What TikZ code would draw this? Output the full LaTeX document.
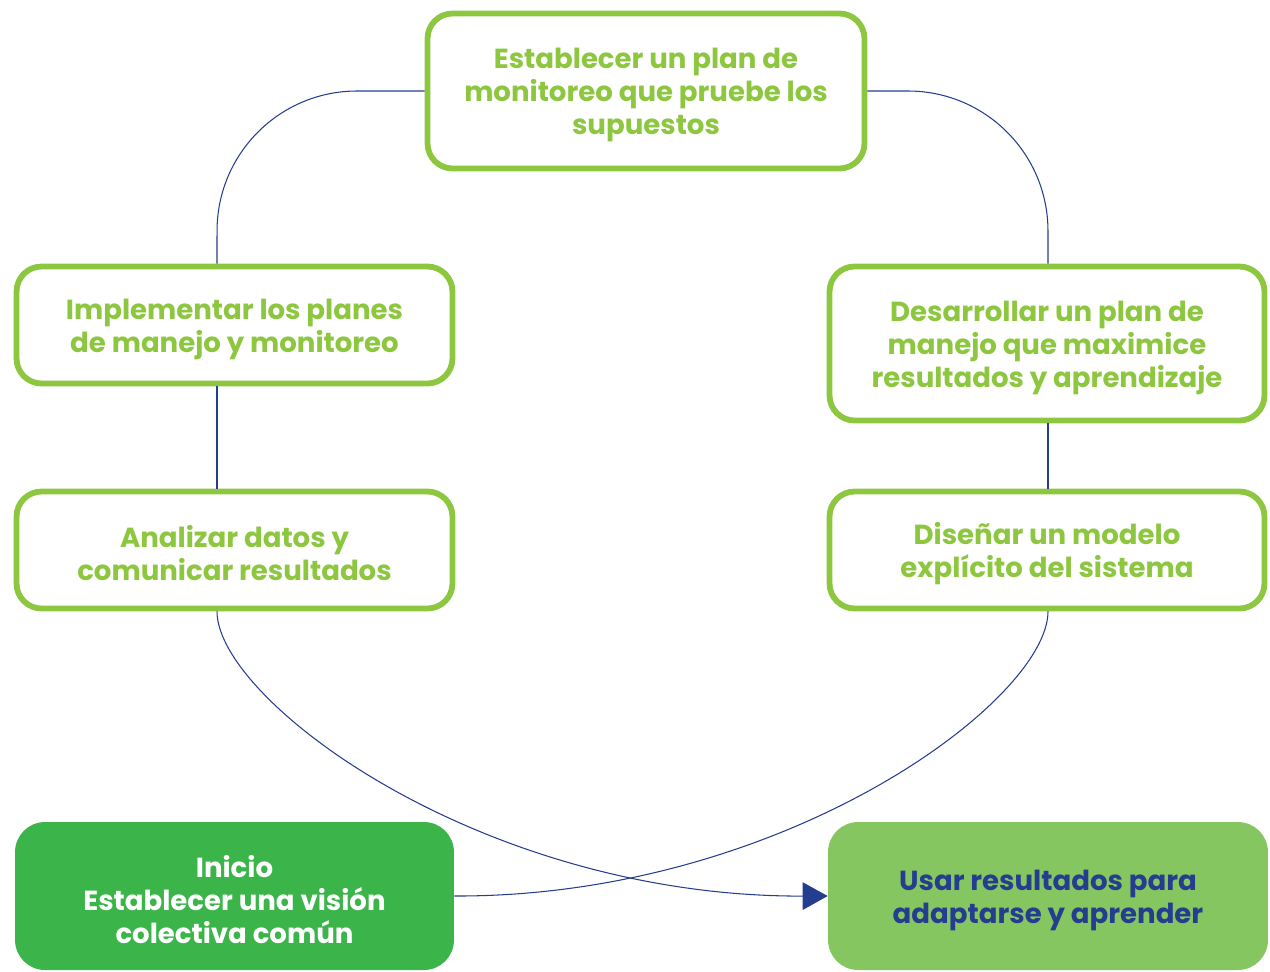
\documentclass[tikz,border=0pt]{standalone}
\usepackage{fontspec}
\setmainfont{Poppins}
\usetikzlibrary{arrows.meta,calc}
\definecolor{lgreen}{HTML}{8DC63F}
\definecolor{dgreen}{HTML}{3BB54A}
\definecolor{mgreen}{HTML}{86C661}
\definecolor{dblue}{HTML}{253D8E}
\newcommand{\toppad}{\rule{0pt}{0.58cm}}
\tikzset{
  boxfont/.style={font=\bfseries\fontsize{15.7}{18.7}\selectfont},
  stepbox/.style={draw=lgreen, line width=3.3pt, rounded corners=0.5cm, fill=white,
    text=lgreen, boxfont, align=center, inner sep=0pt},
  startbox/.style={fill=dgreen, rounded corners=0.6cm, text=white,
    boxfont, align=center, inner sep=0pt},
  endbox/.style={fill=mgreen, rounded corners=0.6cm, text=dblue,
    boxfont, align=center, inner sep=0pt},
  link/.style={draw=dblue, line width=0.6pt}
}
\begin{document}
\begin{tikzpicture}[x=0.02cm,y=-0.02cm]
\useasboundingbox (0,0) rectangle (1270,971);
\coordinate (lx) at (217,0);
\coordinate (rx) at (1048,0);
\node[stepbox, minimum width=8.74cm, minimum height=3.1cm] (top) at (646,91)
  {\toppad Establecer un plan de\\monitoreo que pruebe los\\supuestos};
\node[stepbox, minimum width=8.72cm, minimum height=2.34cm] (impl) at (234.5,325)
  {\toppad Implementar los planes\\de manejo y monitoreo};
\node[stepbox, minimum width=8.72cm, minimum height=2.34cm] (anal) at (234.5,550)
  {\toppad Analizar datos y\\comunicar resultados};
\node[stepbox, minimum width=8.7cm, minimum height=3.08cm] (desa) at (1047,343.5)
  {\toppad Desarrollar un plan de\\manejo que maximice\\resultados y aprendizaje};
\node[stepbox, minimum width=8.7cm, minimum height=2.34cm] (dise) at (1047,550)
  {\toppad Diseñar un modelo\\explícito del sistema};
\node[startbox, minimum width=8.78cm, minimum height=2.96cm] (ini) at (234.5,896)
  {\toppad Inicio\\Establecer una visión\\colectiva común};
\node[endbox, minimum width=8.8cm, minimum height=2.96cm] (usar) at (1048,896)
  {\toppad Usar resultados para\\adaptarse y aprender};
% connectors
\draw[link] (top.west) -- (357,91) arc[start angle=90, end angle=180, radius=2.8cm] -- (impl.north -| lx);
\draw[link] (top.east) -- (908,91) arc[start angle=90, end angle=0, radius=2.8cm] -- (desa.north -| rx);
\draw[link] (impl.south -| lx) -- (anal.north -| lx);
\draw[link] (desa.south -| rx) -- (dise.north -| rx);
\draw[link, -{Triangle[length=0.5cm,width=0.55cm]}] (anal.south -| lx) .. controls (217,700) and (480,897) .. (usar.west);
\draw[link] (dise.south -| rx) .. controls (1048,700) and (785,897) .. (ini.east);
\end{tikzpicture}
\end{document}
